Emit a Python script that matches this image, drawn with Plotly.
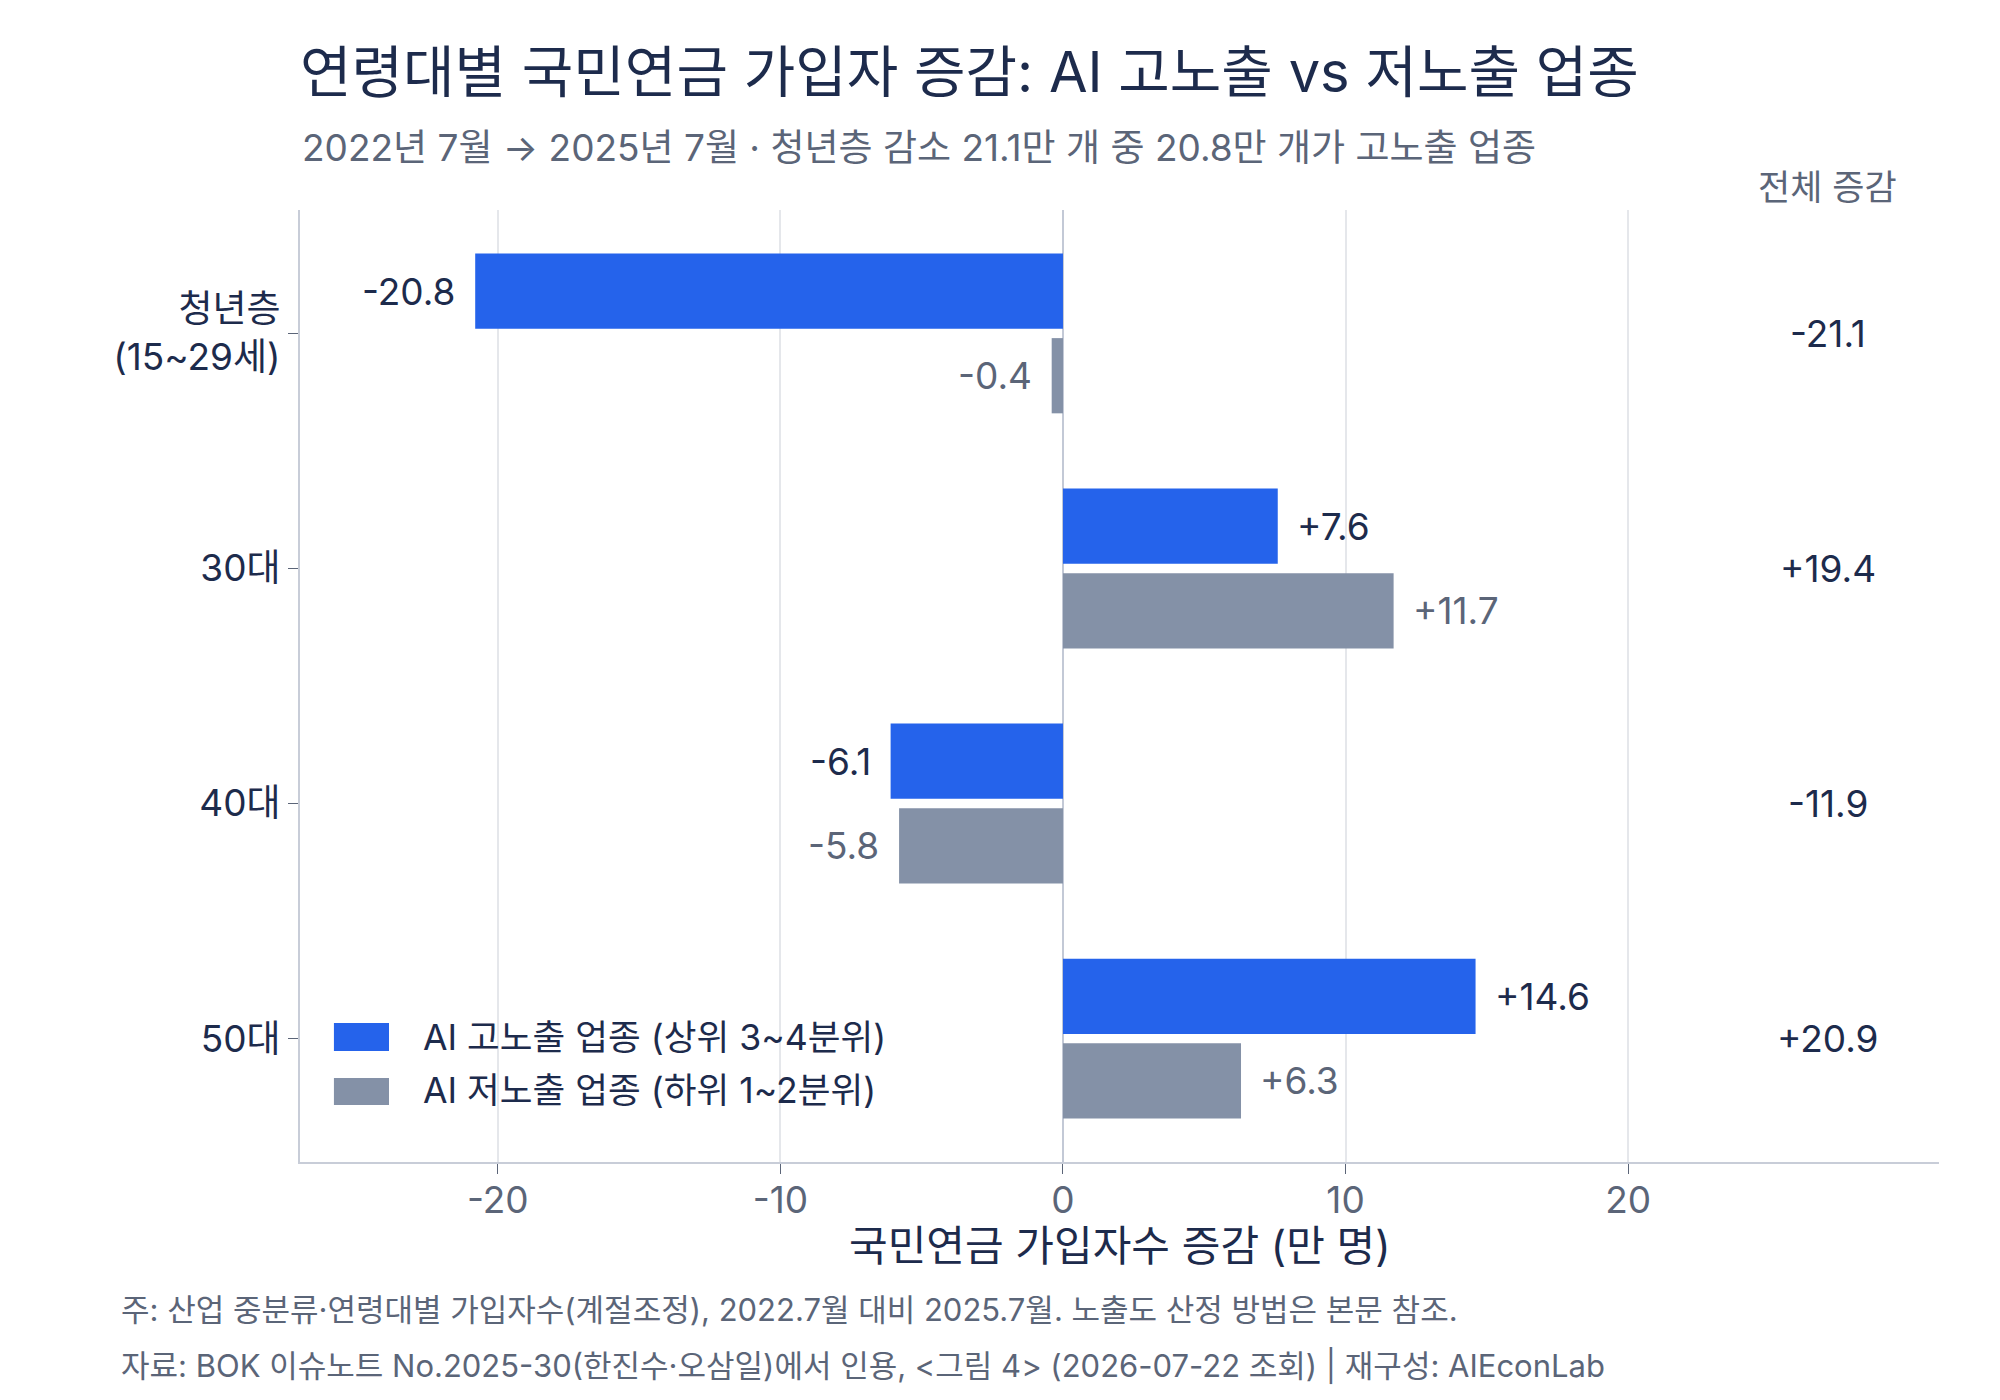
import plotly.graph_objects as go

# ---- data ----
age_groups = ["청년층<br>(15~29세)", "30대", "40대", "50대"]
high_exposure = [-20.8, 7.6, -6.1, 14.6]
low_exposure = [-0.4, 11.7, -5.8, 6.3]
totals = [-21.1, 19.4, -11.9, 20.9]
series_names = ["AI 고노출 업종 (상위 3~4분위)", "AI 저노출 업종 (하위 1~2분위)"]
x_ticks = [-20, -10, 0, 10, 20]

FONT = "Inter, Noto Sans CJK KR, sans-serif"
NAVY = "#1D2B4C"
GRAY_TXT = "#5B6578"
BLUE = "#2563EB"
GRAY_BAR = "#8491A7"

BAR_W = 0.32
pos = list(range(len(age_groups)))

fig = go.Figure()
fig.add_trace(go.Bar(
    y=pos, x=high_exposure, orientation="h", name=series_names[0],
    marker=dict(color=BLUE, line=dict(width=0)), width=BAR_W, offset=-0.34,
    showlegend=False, hoverinfo="x"))
fig.add_trace(go.Bar(
    y=pos, x=low_exposure, orientation="h", name=series_names[1],
    marker=dict(color=GRAY_BAR, line=dict(width=0)), width=BAR_W, offset=0.02,
    showlegend=False, hoverinfo="x"))

def fmt(v):
    return f"+{v:.1f}" if v > 0 else f"{v:.1f}"

VAL_SIZE = 37
ann = []
for i, v in enumerate(high_exposure):
    ann.append(dict(x=v, y=i - 0.18, xref="x", yref="y", text=fmt(v), showarrow=False,
                    xanchor="left" if v >= 0 else "right", xshift=17 if v >= 0 else -18,
                    font=dict(family=FONT, size=VAL_SIZE, color=NAVY)))
for i, v in enumerate(low_exposure):
    ann.append(dict(x=v, y=i + 0.18, xref="x", yref="y", text=fmt(v), showarrow=False,
                    xanchor="left" if v >= 0 else "right", xshift=17 if v >= 0 else -18,
                    font=dict(family=FONT, size=VAL_SIZE, color=GRAY_TXT)))
for i, v in enumerate(totals):
    ann.append(dict(x=0.932, y=i, xref="paper", yref="y", text=fmt(v), showarrow=False,
                    xanchor="center", font=dict(family=FONT, size=VAL_SIZE, color=NAVY)))
ann.append(dict(x=0.932, y=1.024, xref="paper", yref="paper", text="전체 증감", showarrow=False,
                xanchor="center", yanchor="middle", font=dict(family=FONT, size=35, color=GRAY_TXT)))
ann.append(dict(x=0.0, y=1.066, xref="paper", yref="paper",
                text="2022년 7월 → 2025년 7월 · 청년층 감소 21.1만 개 중 20.8만 개가 고노출 업종",
                showarrow=False, xanchor="left", yanchor="middle",
                font=dict(family=FONT, size=37, color=GRAY_TXT)))
ann.append(dict(x=0.5, y=-0.088, xref="paper", yref="paper", text="국민연금 가입자수 증감 (만 명)",
                showarrow=False, xanchor="center", yanchor="middle",
                font=dict(family=FONT, size=42, color=NAVY)))
ann.append(dict(x=-0.1105, y=-0.155, xref="paper", yref="paper",
                text="주: 산업 중분류·연령대별 가입자수(계절조정), 2022.7월 대비 2025.7월. 노출도 산정 방법은 본문 참조.",
                showarrow=False, xanchor="left", yanchor="middle",
                font=dict(family=FONT, size=31, color=GRAY_TXT)))
ann.append(dict(x=-0.1105, y=-0.214, xref="paper", yref="paper",
                text="자료: BOK 이슈노트 No.2025-30(한진수·오삼일)에서 인용, &lt;그림 4&gt; (2026-07-22 조회) | 재구성: AIEconLab",
                showarrow=False, xanchor="left", yanchor="middle",
                font=dict(family=FONT, size=31, color=GRAY_TXT)))

# custom legend
shapes = []
legend_rows = [(0.1166, 0.146, 0.1313, BLUE), (0.0599, 0.0882, 0.0746, GRAY_BAR)]
for (y0, y1, yc, col), name in zip(legend_rows, series_names):
    shapes.append(dict(type="rect", xref="paper", yref="paper", x0=0.0207, x1=0.0543,
                       y0=y0, y1=y1, fillcolor=col, line=dict(width=0)))
    ann.append(dict(x=0.0738, y=yc, xref="paper", yref="paper", text=name, showarrow=False,
                    xanchor="left", yanchor="middle", font=dict(family=FONT, size=35.6, color=NAVY)))

fig.update_layout(
    width=2000, height=1400,
    margin=dict(l=300, r=61, t=210, b=238),
    paper_bgcolor="white", plot_bgcolor="white",
    font=dict(family=FONT, color=NAVY),
    title=dict(text="연령대별 국민연금 가입자 증감: AI 고노출 vs 저노출 업종",
               x=0.15, xanchor="left", xref="container", y=0.948, yanchor="middle", yref="container",
               font=dict(family=FONT, size=56, color=NAVY)),
    barmode="overlay",
    annotations=ann, shapes=shapes,
    xaxis=dict(range=[-27, 31], tickvals=x_ticks, ticktext=[str(t) for t in x_ticks],
               showgrid=True, gridcolor="#E5E7EB", gridwidth=2,
               zeroline=True, zerolinecolor="#C3C9D6", zerolinewidth=2,
               showline=True, linecolor="#C8CDD8", linewidth=2,
               ticks="outside", ticklen=10, tickcolor=GRAY_TXT, tickwidth=1,
               ticklabelstandoff=-5,
               tickfont=dict(family=FONT, size=37, color=GRAY_TXT), fixedrange=True),
    yaxis=dict(range=[3.525, -0.525], tickvals=pos, ticktext=age_groups,
               showgrid=False, zeroline=False,
               showline=True, linecolor="#C8CDD8", linewidth=2,
               ticks="outside", ticklen=10, tickcolor=GRAY_TXT, tickwidth=1,
               tickfont=dict(family=FONT, size=37, color=NAVY), fixedrange=True),
)

fig.write_html("out.html")
